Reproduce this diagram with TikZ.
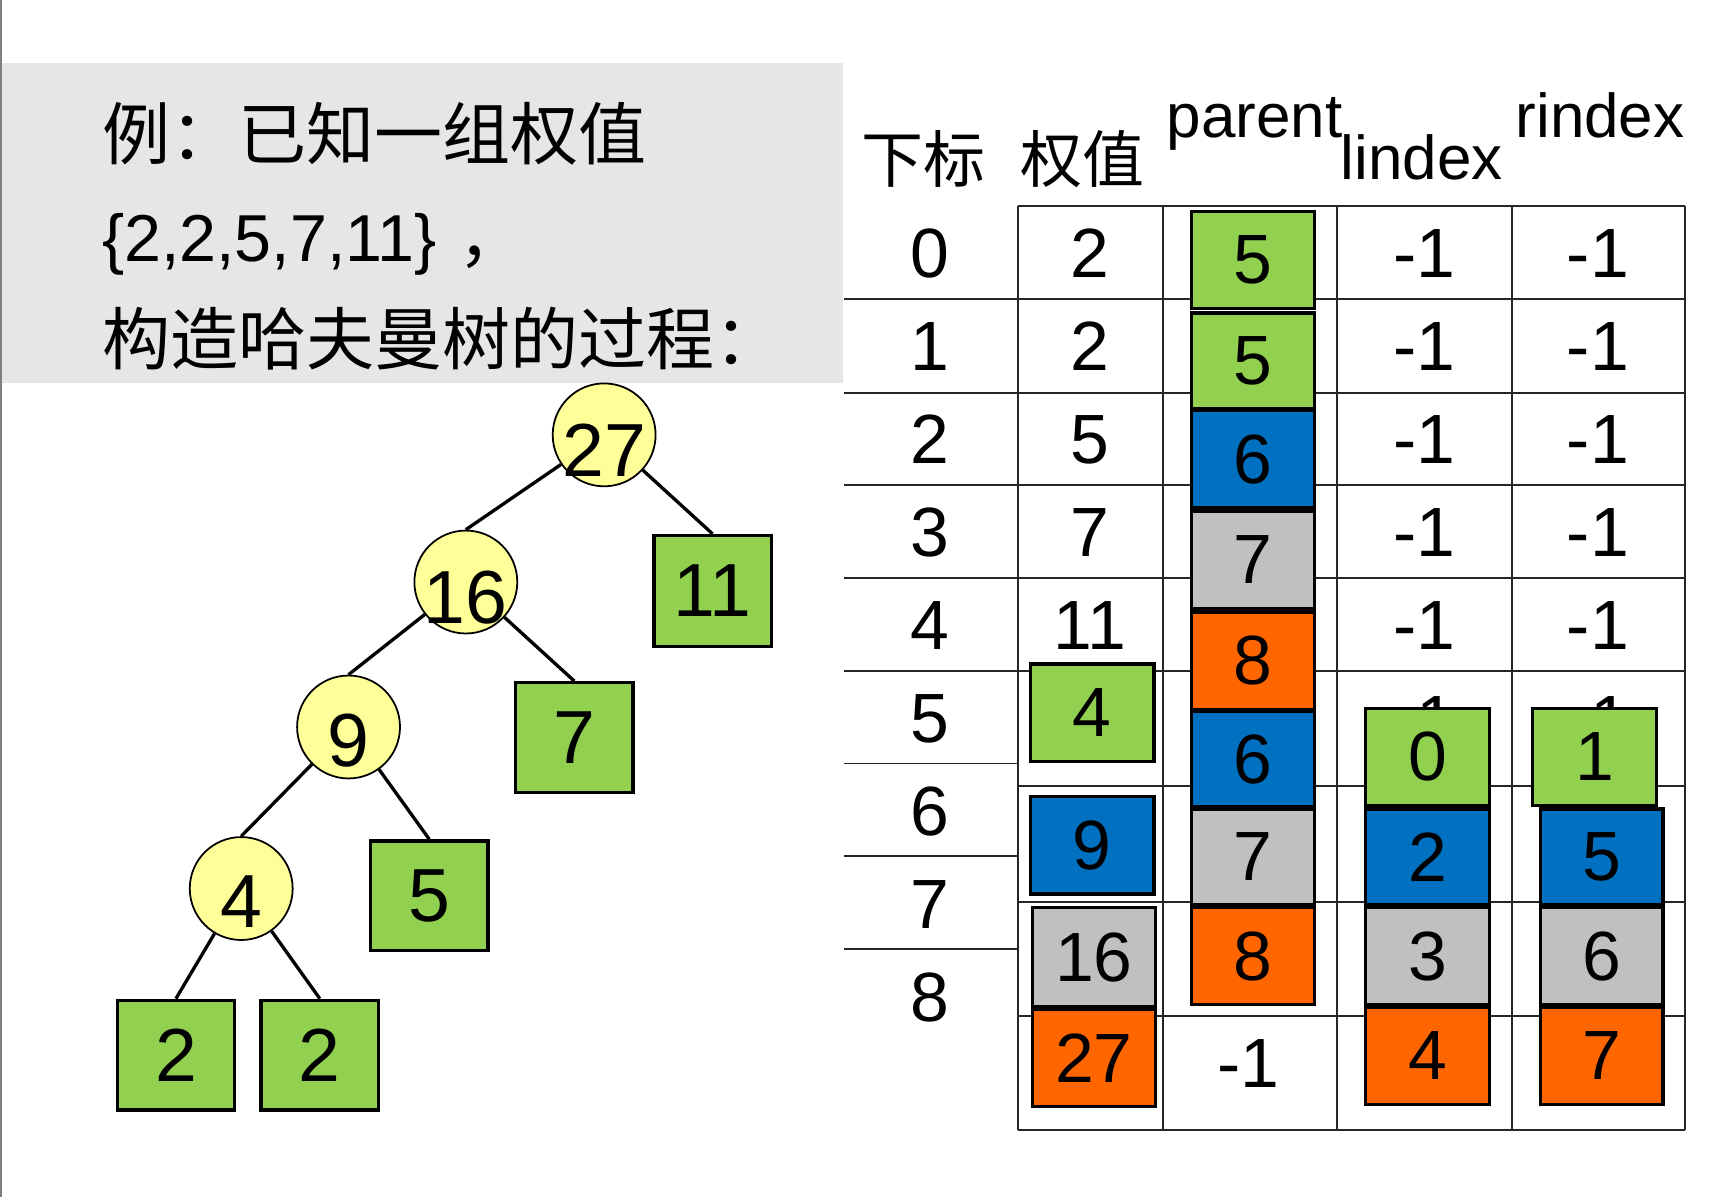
\documentclass[tikz,border=0pt]{standalone}
\usepackage{fontspec}
\setmainfont{Liberation Sans}
\newfontfamily\cjk{Noto Sans CJK SC}
\definecolor{gbg}{HTML}{E6E6E6}
\definecolor{cgreen}{HTML}{92D050}
\definecolor{cblue}{HTML}{0070C0}
\definecolor{cgray}{HTML}{C0C0C0}
\definecolor{corange}{HTML}{FF6600}
\definecolor{cyellow}{HTML}{FFFF99}
\newcommand\cbx[7]{\node[tbox,fill=#5,minimum width={(#3)-(#1)},minimum height={(#4)-(#2)}] (#6) at ({((#1)+(#3))/2},{((#2)+(#4))/2}) {#7};}
\begin{document}
\begin{tikzpicture}[x=1pt,y=-1pt,
  tl/.style={line width=1.8pt, draw=black!85},
  num/.style={font=\fontsize{63}{63}\selectfont, anchor=base, inner sep=0pt},
  tbox/.style={draw=black, line width=3pt, inner sep=0pt, font=\fontsize{63}{63}\selectfont},
  circ/.style={circle, draw=black, line width=1.6pt, fill=cyellow, minimum size=93pt, inner sep=0pt},
  edge/.style={draw=black, line width=3pt},
  tnum/.style={font=\fontsize{68}{68}\selectfont, inner sep=0pt},
  hdr/.style={font=\fontsize{56}{56}\selectfont, anchor=base, inner sep=0pt},
  captxt/.style={font=\fontsize{60}{60}\selectfont, anchor=base west, inner sep=0pt},
  cjkcap/.style={font=\cjk\fontsize{61.5}{61.5}\selectfont, anchor=base west, inner sep=0pt},
]
\useasboundingbox (0,0) rectangle (1568,1082);
\fill[white] (0,0) rectangle (1568,1082);
\draw[draw=black!50, line width=2pt] (1,0) -- (1,1082);
\fill[gbg] (2,57) rectangle (762,346);
\node[cjkcap] (t1) at (92,144) {例：已知一组权值};
\node[captxt] (t2) at (92,236) {\{2,2,5,7,11\}\hspace{20pt}{\cjk ，}};
\node[cjkcap] (t3) at (92,329) {构造哈夫曼树的过程：};
% headers
\node[hdr] (hidx) at (835,165) {\cjk 下标};
\node[hdr] (hw) at (978,165) {\cjk 权值};
\node[hdr] (hp) at (1134,124) {parent};
\node[hdr] (hl) at (1285,162) {lindex};
\node[hdr] (hr) at (1446,124) {rindex};
% table grid
\foreach \y in {270,355,438,522,606} \draw[tl] (763,\y) -- (1523,\y);
\foreach \y in {690,774,858} \draw[tl] (763,\y) -- (920,\y);
\foreach \y in {186,710,815,918,1021} \draw[tl] (920,\y) -- (1523,\y);
\foreach \x in {920,1051,1208,1366,1523} \draw[tl] (\x,186) -- (\x,1021);
% plain numbers
\foreach \i in {0,...,8} \node[num] (idx\i) at (840,{251+84*\i}) {\i};
\foreach \v [count=\i from 0] in {2,2,5,7,11} {
  \node[num] (w\i) at (985,{251+84*\i}) {\v};
  \node[num] (l\i) at (1287,{251+84*\i}) {-1};
  \node[num] (r\i) at (1444,{251+84*\i}) {-1};
}
\node[num] (l5t) at (1287,673) {-1};
\node[num] (r5t) at (1444,673) {-1};
\node[num] (p8) at (1128,983) {-1};
% parent boxes
\cbx{1077}{191}{1188}{279}{cgreen}{p0}{5}
\cbx{1077}{283}{1188}{369}{cgreen}{p1}{5}
\cbx{1077}{371}{1188}{459}{cblue}{p2}{6}
\cbx{1077}{462}{1188}{550}{cgray}{p3}{7}
\cbx{1077}{553}{1188}{641}{corange}{p4}{8}
\cbx{1077}{643}{1188}{729}{cblue}{p5}{6}
\cbx{1077}{731}{1188}{818}{cgray}{p6}{7}
\cbx{1077}{820}{1188}{908}{corange}{p7}{8}
% weight boxes
\cbx{931}{600}{1043}{688}{cgreen}{w5}{4}
\cbx{931}{720}{1043}{808}{cblue}{w6}{9}
\cbx{933}{820}{1044}{910}{cgray}{w7}{16}
\cbx{933}{912}{1044}{1000}{corange}{w8}{27}
% lindex boxes
\cbx{1234}{640}{1346}{728}{cgreen}{l5}{0}
\cbx{1234}{731}{1346}{818}{cblue}{l6}{2}
\cbx{1234}{820}{1346}{908}{cgray}{l7}{3}
\cbx{1234}{910}{1346}{998}{corange}{l8}{4}
% rindex boxes
\cbx{1385}{640}{1497}{728}{cgreen}{r5}{1}
\cbx{1392}{731}{1503}{818}{cblue}{r6}{5}
\cbx{1392}{820}{1503}{908}{cgray}{r7}{6}
\cbx{1392}{910}{1503}{998}{corange}{r8}{7}
% tree
\node[circ] (n27) at (546,393) {};
\node[circ] (n16) at (421,526) {};
\node[circ] (n9) at (315,657) {};
\node[circ] (n4) at (218,803) {};
\begin{scope}[tbox/.append style={font=\fontsize{68}{68}\selectfont}]
\cbx{591}{484}{697}{584}{cgreen}{b11}{11}
\cbx{466}{617}{572}{716}{cgreen}{b7}{7}
\cbx{335}{760}{441}{859}{cgreen}{b5}{5}
\cbx{106}{904}{212}{1003}{cgreen}{b2a}{2}
\cbx{236}{904}{342}{1003}{cgreen}{b2b}{2}
\end{scope}
\draw[edge] (n27) -- (n16.north);
\draw[edge] (n27) -- (b11.north);
\draw[edge] (n16) -- (n9.north);
\draw[edge] (n16) -- (b7.north);
\draw[edge] (n9) -- (n4.north);
\draw[edge] (n9) -- (b5.north);
\draw[edge] (n4) -- (b2a.north);
\draw[edge] (n4) -- (b2b.north);
\node[tnum] (t27) at ([yshift=-14pt]n27.center) {27};
\node[tnum] (t16) at ([yshift=-14pt]n16.center) {16};
\node[tnum] (t9) at ([yshift=-12pt]n9.center) {9};
\node[tnum] (t4) at ([yshift=-12pt]n4.center) {4};
\end{tikzpicture}
\end{document}
